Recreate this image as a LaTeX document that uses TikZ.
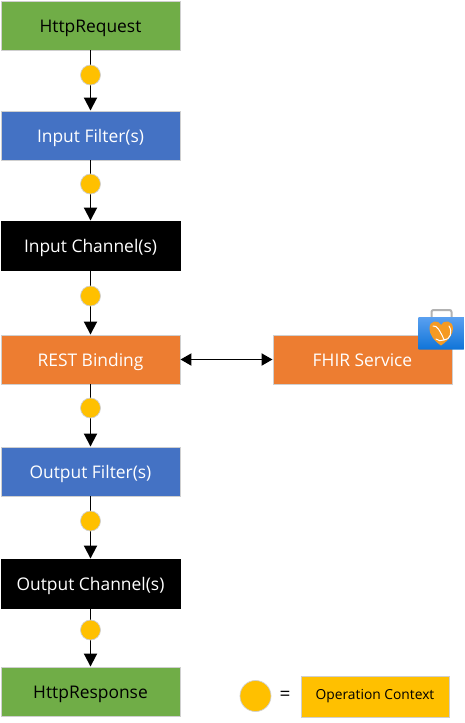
\documentclass[tikz,border=0pt]{standalone}
\usepackage{fontspec}
\setmainfont{Open Sans}
\usetikzlibrary{arrows.meta}
\definecolor{cgreen}{HTML}{70AD47}
\definecolor{cblue}{HTML}{4472C4}
\definecolor{corange}{HTML}{ED7D31}
\definecolor{cgold}{HTML}{FFC000}
\definecolor{cedge}{HTML}{CFCFCF}
\definecolor{bagtop}{HTML}{5AA0F0}
\definecolor{bagbot}{HTML}{0F74D8}
\definecolor{heart}{HTML}{F59A23}
\tikzset{
  flowbox/.style={draw=cedge,line width=0.9pt,minimum width=179pt,minimum height=49pt,inner sep=0pt,text height=13pt,text depth=0pt,font=\fontsize{17.4}{20}\selectfont},
  greenbox/.style={flowbox,fill=cgreen,text=black},
  bluebox/.style={flowbox,fill=cblue,text=white},
  blackbox/.style={flowbox,fill=black,draw=black,text=white},
  orangebox/.style={flowbox,fill=corange,text=white},
  ctxdot/.style={circle,draw=cedge,line width=0.7pt,fill=cgold,minimum size=20pt,inner sep=0pt},
  flow/.style={line width=1.9pt,-{Triangle[length=13pt,width=13pt]}},
  flowboth/.style={line width=1.9pt,{Triangle[length=11pt,width=12pt]}-{Triangle[length=11pt,width=12pt]}}
}
\begin{document}
\begin{tikzpicture}[x=1pt,y=-1pt]
\useasboundingbox[fill=white] (0,0) rectangle (465,723);
\node[greenbox] (req) at (90.5,25.5) {HttpRequest};
\node[bluebox] (inf) at (90.5,135.5) {Input Filter(s)};
\node[blackbox] (inc) at (90.5,245.5) {Input Channel(s)};
\node[orangebox] (rest) at (90.5,359.5) {REST Binding};
\node[orangebox] (fhir) at (362.5,359.5) {FHIR Service};
\node[bluebox] (outf) at (90.5,471.5) {Output Filter(s)};
\node[blackbox] (outc) at (90.5,583.5) {Output Channel(s)};
\node[greenbox] (resp) at (90.5,691.5) {HttpResponse};
\draw[flow] (req) -- (inf);
\draw[flow] (inf) -- (inc);
\draw[flow] (inc) -- (rest);
\draw[flow] (rest) -- (outf);
\draw[flow] (outf) -- (outc);
\draw[flow] (outc) -- (resp);
\draw[flowboth] (rest) -- (fhir);
\node[ctxdot] (d1) at (90.5,75) {};
\node[ctxdot] (d2) at (90.5,184) {};
\node[ctxdot] (d3) at (90.5,296) {};
\node[ctxdot] (d4) at (90.5,408) {};
\node[ctxdot] (d5) at (90.5,521) {};
\node[ctxdot] (d6) at (90.5,630) {};
\node[ctxdot,minimum size=31pt] (ld) at (255.5,696) {};
\node[font=\fontsize{19}{22}\selectfont] (eq) at (285,696) {=};
\node[draw=cedge,line width=0.9pt,fill=cgold,minimum width=148pt,minimum height=41pt,inner sep=0pt,font=\fontsize{13.8}{16}\selectfont] (ctx) at (375,696.5) {Operation Context};
% service icon
\draw[color=gray!60,line width=2pt,rounded corners=2pt] (431.5,318) -- (431.5,310) -- (451.5,310) -- (451.5,318);
\shade[top color=bagtop,bottom color=bagbot,rounded corners=1pt] (418,317) rectangle (464.5,349.5);
\fill[color=heart] (441,345.5) .. controls (433,340) and (429.5,334) .. (429.5,328.5) .. controls (429.5,320) and (438.5,319.5) .. (441,325) .. controls (443.5,319.5) and (453,320) .. (453,328.5) .. controls (453,334) and (449,340) .. (441,345.5) -- cycle;
\draw[white,line width=1pt,line cap=round] (433,326) .. controls (437,325) and (440,331) .. (444,339.5) (449,326) .. controls (453,332) and (450,340) .. (444,340) (436,339) .. controls (438,341) and (441,341) .. (444,340);
\end{tikzpicture}
\end{document}
